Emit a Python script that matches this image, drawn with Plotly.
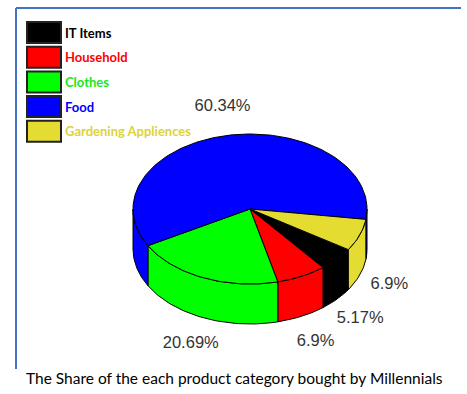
import numpy as np
import plotly.graph_objects as go

# Data
categories = ["IT Items", "Household", "Clothes", "Food", "Gardening Appliences"]
shares = [5.17, 6.9, 20.69, 60.34, 6.9]
slice_colors = ["#000000", "#ff0000", "#00ff00", "#0000ff", "#e5dc32"]
legend_text_colors = ["#000000", "#ff0000", "#19e619", "#0000ff", "#ddd33a"]
title_text = "The Share of the each product category bought by Millennials"

# Geometry of the 3D pie (pixel space of the figure)
W, H = 467, 394
cx, cy, rx, ry, depth = 250, 209, 117, 75, 40
start_deg = -32.8          # first slice starts here and slices run clockwise


def ellipse(theta_deg, dz=0.0):
    t = np.radians(theta_deg)
    return cx + rx * np.cos(t), cy - ry * np.sin(t) + dz


def arc(a_from, a_to, dz=0.0, n=None):
    if n is None:
        n = max(4, int(abs(a_to - a_from) / 1.5) + 2)
    th = np.linspace(a_from, a_to, n)
    xs, ys = ellipse(th, dz)
    return list(xs), list(ys)


fig = go.Figure()

# slice angle bounds
bounds = []
acc = 0.0
for v in shares:
    a0 = start_deg - acc * 3.6
    a1 = a0 - v * 3.6
    bounds.append((a0, a1))
    acc += v

# side walls (front half only: angles whose sine is negative)
front = [(-180.0, 0.0), (-540.0, -360.0)]
for (a0, a1), col in zip(bounds, slice_colors):
    for lo, hi in front:
        s_lo, s_hi = max(a1, lo), min(a0, hi)
        if s_hi - s_lo <= 0.01:
            continue
        tx, ty = arc(s_hi, s_lo)
        bx, by = arc(s_lo, s_hi, depth)
        fig.add_trace(go.Scatter(
            x=tx + bx + [tx[0]], y=ty + by + [ty[0]],
            mode="lines", fill="toself", fillcolor=col,
            line=dict(color="#000000", width=1),
            hoverinfo="skip", showlegend=False))

# top faces
for (a0, a1), col, name in zip(bounds, slice_colors, categories):
    tx, ty = arc(a0, a1)
    fig.add_trace(go.Scatter(
        x=[cx] + tx + [cx], y=[cy] + ty + [cy],
        mode="lines", fill="toself", fillcolor=col,
        line=dict(color="#000000", width=1),
        name=name, hoverinfo="name", showlegend=False))

# percentage labels placed outside the slices
lx, ly, lt = [], [], []
for (a0, a1), v in zip(bounds, shares):
    m = np.radians((a0 + a1) / 2)
    x = cx + 1.27 * rx * np.cos(m)
    y = cy - 1.38 * ry * np.sin(m) + (depth if np.sin(m) < 0 else 0)
    lx.append(x)
    ly.append(y)
    lt.append(f"{v:g}%")
fig.add_trace(go.Scatter(
    x=lx, y=ly, text=lt, mode="text",
    textfont=dict(family="Liberation Sans, Arial, sans-serif", size=16.5, color="#333333"),
    hoverinfo="skip", showlegend=False))

# legend: colour boxes with coloured names
shapes = []
annotations = []
box_x0, box_x1, box_top, box_h, box_step = 27, 61, 22, 21, 24.7
for i, (name, col, tcol) in enumerate(zip(categories, slice_colors, legend_text_colors)):
    y0 = box_top + i * box_step
    shapes.append(dict(type="rect", xref="x", yref="y", x0=box_x0, x1=box_x1,
                       y0=y0, y1=y0 + box_h, fillcolor=col,
                       line=dict(color="#222222", width=2), layer="above"))
    annotations.append(dict(x=box_x1 + 2, y=y0 + box_h / 2, xref="x", yref="y",
                            text=name, showarrow=False, xanchor="left", yanchor="middle",
                            font=dict(family="Lato, Calibri, sans-serif",
                                      size=13, color=tcol, weight="bold")))

# frame lines
shapes.append(dict(type="line", xref="x", yref="y", x0=16, x1=461, y0=8, y1=8,
                   line=dict(color="#4472c4", width=2)))
shapes.append(dict(type="line", xref="x", yref="y", x0=16, x1=16, y0=8, y1=369,
                   line=dict(color="#4472c4", width=2)))

annotations.append(dict(x=234, y=378, xref="x", yref="y", text=title_text,
                        showarrow=False, xanchor="center", yanchor="middle",
                        font=dict(family="Lato, Calibri, sans-serif", size=15.5,
                                  color="#000000")))

fig.update_layout(
    width=W, height=H,
    margin=dict(l=0, r=0, t=0, b=0),
    paper_bgcolor="#ffffff", plot_bgcolor="#ffffff",
    xaxis=dict(range=[0, W], visible=False, fixedrange=True),
    yaxis=dict(range=[H, 0], visible=False, fixedrange=True),
    shapes=shapes, annotations=annotations,
    showlegend=False,
)

fig.write_html("out.html")
